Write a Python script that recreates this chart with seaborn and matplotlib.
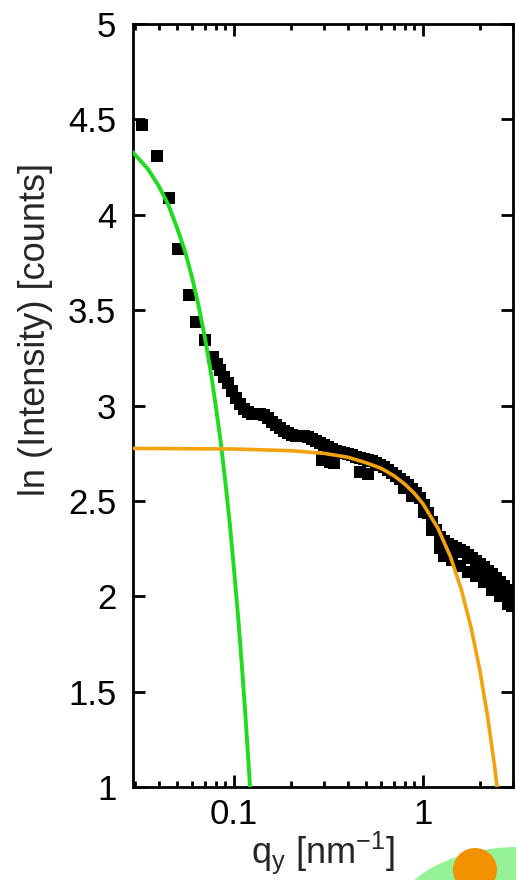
import numpy as np
import pandas as pd
import matplotlib
matplotlib.use("Agg")
import matplotlib.pyplot as plt
import matplotlib.ticker as mticker
from matplotlib.patches import Ellipse, Circle
import seaborn as sns

# -------------------- data -------------------- #
# measured points (upper edge of the band)
q_data = [0.0326, 0.0392, 0.0453, 0.0506, 0.0578, 0.0629, 0.0703,
          0.0774, 0.0813, 0.0843, 0.0885, 0.0929, 0.0976, 0.1025, 0.1076, 0.1130, 0.1186,
          0.1245, 0.1307, 0.1373, 0.1441, 0.1513, 0.1589, 0.1668, 0.1751, 0.1839, 0.1931,
          0.2027, 0.2128, 0.2234, 0.2346, 0.2463, 0.2586, 0.2715, 0.2851, 0.2993, 0.3143,
          0.3300, 0.3464, 0.3638, 0.3819, 0.4010, 0.4210, 0.4420, 0.4642, 0.4873, 0.5117,
          0.5372, 0.5641, 0.5922, 0.6218, 0.6529, 0.6855, 0.7197, 0.7556, 0.7933, 0.8330,
          0.8746, 0.9182, 0.9641, 1.012, 1.063, 1.116, 1.172, 1.230, 1.292, 1.356,
          1.424, 1.495, 1.570, 1.648, 1.730, 1.816, 1.907, 2.002, 2.102, 2.207,
          2.317, 2.433, 2.555, 2.683, 2.817, 2.958]
ln_data = [4.47, 4.31, 4.09, 3.82, 3.579, 3.438, 3.343,
           3.254, 3.218, 3.186, 3.149, 3.118, 3.076, 3.039, 3.008, 2.982, 2.966,
           2.955, 2.955, 2.955, 2.950, 2.934, 2.913, 2.898, 2.882, 2.866, 2.856,
           2.845, 2.840, 2.840, 2.840, 2.835, 2.824, 2.814, 2.803, 2.793, 2.782,
           2.772, 2.761, 2.756, 2.751, 2.746, 2.741, 2.730, 2.725, 2.720, 2.714,
           2.709, 2.699, 2.688, 2.678, 2.662, 2.646, 2.630, 2.615, 2.599, 2.583,
           2.562, 2.541, 2.515, 2.478, 2.436, 2.389, 2.347, 2.311, 2.290, 2.274,
           2.263, 2.253, 2.242, 2.232, 2.216, 2.200, 2.185, 2.169, 2.153, 2.132,
           2.116, 2.096, 2.075, 2.054, 2.033, 2.012]

# scattered points below the band
q_low = [0.2921, 0.3220, 0.3381, 0.4642, 0.5117, 0.7933, 0.8746,
         1.012, 1.116, 1.230, 1.292, 1.424, 1.570, 1.730, 1.907, 2.102,
         2.317, 2.555, 2.817, 2.958]
ln_low = [2.714, 2.704, 2.699, 2.651, 2.641, 2.565, 2.525,
          2.442, 2.347, 2.253, 2.211, 2.190, 2.159, 2.127, 2.106, 2.075,
          2.033, 2.001, 1.959, 1.949]

# green fit (small q)
q_green = [0.029, 0.035, 0.040, 0.045, 0.050, 0.055, 0.060, 0.065, 0.070, 0.075,
           0.080, 0.085, 0.090, 0.095, 0.100, 0.105, 0.110, 0.115, 0.120, 0.125]
ln_green = [4.33, 4.24, 4.15, 4.05, 3.93, 3.81, 3.67, 3.52, 3.36, 3.19,
            3.00, 2.81, 2.60, 2.38, 2.14, 1.90, 1.64, 1.37, 1.09, 0.80]

# orange fit (large q)
q_orange = [0.029, 0.1, 0.2, 0.3, 0.4, 0.5, 0.6, 0.7, 0.8, 0.9,
            1.0, 1.2, 1.4, 1.6, 1.8, 2.0, 2.2, 2.4, 2.6]
ln_orange = [2.775, 2.772, 2.763, 2.749, 2.729, 2.70, 2.671, 2.633, 2.589, 2.54,
             2.485, 2.357, 2.207, 2.033, 1.835, 1.615, 1.371, 1.105, 0.815]

y_ticks = [1, 1.5, 2, 2.5, 3, 3.5, 4, 4.5, 5]
x_ticks = [0.1, 1]
x_tick_labels = ["0.1", "1"]

df = pd.DataFrame({"q": q_data + q_low, "ln": ln_data + ln_low})
green = pd.DataFrame({"q": q_green, "ln": ln_green})
orange = pd.DataFrame({"q": q_orange, "ln": ln_orange})

# -------------------- style -------------------- #
sns.set_style("ticks")
plt.rcParams["font.family"] = ["Liberation Sans", "DejaVu Sans"]
plt.rcParams["mathtext.fontset"] = "custom"
plt.rcParams["mathtext.rm"] = "Liberation Sans"

fig = plt.figure(figsize=(5.16, 8.8), dpi=100)
ax = fig.add_axes([0.2578, 0.1057, 0.7364, 0.867])

sns.scatterplot(data=df, x="q", y="ln", marker="s", s=78, color="black",
                linewidth=0, ax=ax, zorder=2)
sns.lineplot(data=green, x="q", y="ln", color="#1fdc1f", linewidth=2.8,
             sort=False, estimator=None, ax=ax, zorder=3)
sns.lineplot(data=orange, x="q", y="ln", color="#f2a20c", linewidth=2.6,
             sort=False, estimator=None, ax=ax, zorder=3)

ax.set_xscale("log")
ax.set_xlim(0.0292, 3.0)
ax.set_ylim(1, 5)

ax.xaxis.set_major_locator(mticker.FixedLocator(x_ticks))
ax.xaxis.set_major_formatter(mticker.FixedFormatter(x_tick_labels))
ax.xaxis.set_minor_locator(mticker.LogLocator(base=10, subs=np.arange(2, 10)))
ax.xaxis.set_minor_formatter(mticker.NullFormatter())
ax.set_yticks(y_ticks)
ax.yaxis.set_major_formatter(mticker.FormatStrFormatter("%g"))

for sp in ax.spines.values():
    sp.set_linewidth(2.0)
    sp.set_color("black")

ax.tick_params(which="both", direction="in", top=True, right=True,
               width=2.0, colors="black", labelsize=25)
ax.tick_params(which="major", length=8.5)
ax.tick_params(which="minor", length=4)
ax.tick_params(axis="y", pad=12)
ax.tick_params(axis="x", pad=8)

ax.set_xlabel(r"q$_\mathregular{y}$ [nm$^\mathregular{-1}$]", fontsize=26)
ax.set_ylabel("ln (Intensity) [counts]", fontsize=26)
ax.xaxis.set_label_coords(0.5, -0.055)
ax.yaxis.set_label_coords(-0.21, 0.6)

# decoration in the lower right corner
fig.patches.append(Ellipse((5.18, -0.5), 2.6, 1.66, transform=fig.dpi_scale_trans,
                           facecolor="#96f296", edgecolor="none", zorder=1))
fig.patches.append(Circle((4.75, 0.10), 0.22, transform=fig.dpi_scale_trans,
                          facecolor="#f39200", edgecolor="none", zorder=2))

fig.savefig("out.png", dpi=100)
